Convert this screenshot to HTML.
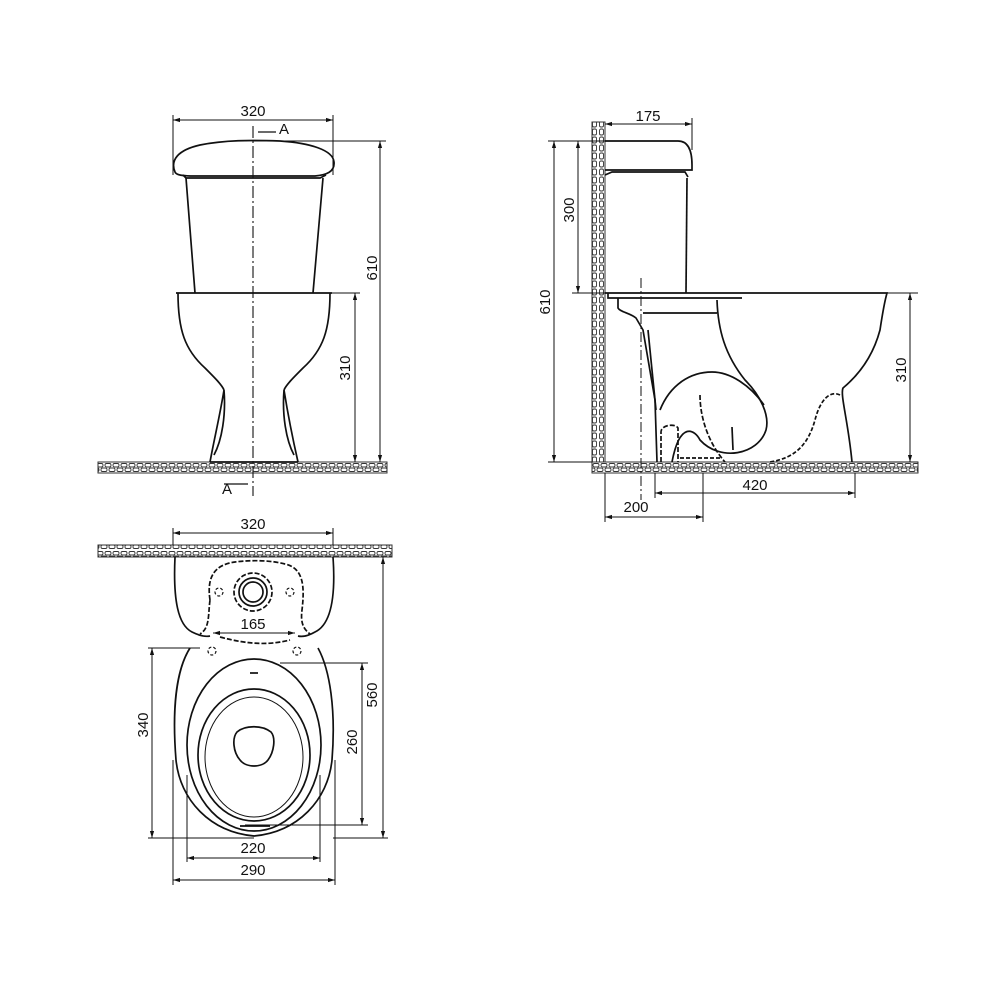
<!DOCTYPE html>
<html><head><meta charset="utf-8"><style>
html,body{margin:0;padding:0;background:#fff;width:990px;height:990px;overflow:hidden}
svg text{font-family:"Liberation Sans",sans-serif;font-size:15px;fill:#111}
</style></head><body>
<svg width="990" height="990" viewBox="0 0 990 990" xmlns="http://www.w3.org/2000/svg">
<defs>
<pattern id="hx" width="8" height="11" patternUnits="userSpaceOnUse">
<rect width="8" height="11" fill="#fff"/>
<rect x="1" y="1.5" width="6" height="3.5" rx="1.5" fill="none" stroke="#333" stroke-width="0.9"/>
<rect x="-3" y="6" width="6" height="3.5" rx="1.5" fill="none" stroke="#333" stroke-width="0.9"/>
<rect x="5" y="6" width="6" height="3.5" rx="1.5" fill="none" stroke="#333" stroke-width="0.9"/>
</pattern>
<pattern id="hy" width="13" height="8" patternUnits="userSpaceOnUse">
<rect width="13" height="8" fill="#fff"/>
<rect x="1.5" y="1" width="4" height="6" rx="1.5" fill="none" stroke="#333" stroke-width="0.9"/>
<rect x="7.5" y="1" width="4" height="6" rx="1.5" fill="none" stroke="#333" stroke-width="0.9"/>
</pattern>
<marker id="ar" viewBox="0 0 10 10" refX="10" refY="5" markerWidth="7" markerHeight="7" orient="auto-start-reverse"><path d="M0,2 L10,5 L0,8z" fill="#111"/></marker>
</defs>
<g fill="none" stroke="#111" stroke-width="1.7">

<!-- ===== FRONT VIEW ===== -->
<rect x="98" y="462" width="289" height="11" fill="url(#hx)" stroke="#333" stroke-width="1"/>
<line x1="253" y1="126" x2="253" y2="496" stroke-dasharray="12,3,2,3" stroke-width="1.1"/>
<line x1="173" y1="115" x2="173" y2="175" stroke-width="1"/>
<line x1="333" y1="115" x2="333" y2="175" stroke-width="1"/>
<line x1="173" y1="120" x2="333" y2="120" stroke-width="1" marker-start="url(#ar)" marker-end="url(#ar)"/>
<line x1="258" y1="132" x2="276" y2="132" stroke-width="1.2"/>
<line x1="224" y1="484" x2="248" y2="484" stroke-width="1.2"/>
<path d="M175,172 C170,160 178,150 200,145 C225,140 250,140 280,141 C310,143 333,150 334,162 C335,172 326,175 315,176 L195,176 C182,176 176,175 175,172 Z"/>
<path d="M183,175 L186,178 L320,178 L326,175"/>
<path d="M186,178 L195,293 M323,178 L313,293"/>
<path d="M176,293 L332,293 M178,293 C178,330 185,350 205,368 C215,378 222,385 224,390 M330,293 C330,330 323,350 303,368 C293,378 286,385 284,390"/>
<path d="M224,390 C220,415 214,440 210,462 M224,390 C226,415 222,440 214,455 M284,390 C288,415 293,440 298,462 M284,390 C282,415 286,440 294,455"/>
<line x1="210" y1="462" x2="298" y2="462"/>
<line x1="253" y1="141" x2="386" y2="141" stroke-width="1"/>
<line x1="332" y1="293" x2="360" y2="293" stroke-width="1"/>
<line x1="380" y1="141" x2="380" y2="462" stroke-width="1" marker-start="url(#ar)" marker-end="url(#ar)"/>
<line x1="355" y1="293" x2="355" y2="462" stroke-width="1" marker-start="url(#ar)" marker-end="url(#ar)"/>

<!-- ===== SIDE VIEW ===== -->
<rect x="592" y="122" width="13" height="340" fill="url(#hy)" stroke="#333" stroke-width="1"/>
<rect x="592" y="462" width="326" height="11" fill="url(#hx)" stroke="#333" stroke-width="1"/>
<line x1="605" y1="124" x2="692" y2="124" stroke-width="1" marker-start="url(#ar)" marker-end="url(#ar)"/>
<line x1="692" y1="118" x2="692" y2="150" stroke-width="1"/>
<path d="M605,141 L678,141 C688,141 692,150 692,165 L692,170 L605,170"/>
<path d="M605,175 L612,172 L685,172 L688,177"/>
<path d="M687,178 L686,293"/>
<line x1="641" y1="278" x2="641" y2="500" stroke-dasharray="10,3,2,3" stroke-width="1"/>
<path d="M605,293 L887,293 C885,300 883,310 880,330 C872,360 855,378 843,388 C840,395 848,420 852,462"/>
<path d="M608,293 L608,298 L742,298"/>
<path d="M618,298 L618,308 C620,312 630,313 636,318 L643,330 L655,400 L657,462"/>
<path d="M643,313 L717,313"/>
<path d="M717,300 C718,330 725,355 745,380 C760,395 770,415 766,430 C758,455 720,462 700,440 C695,430 680,420 672,462"/>
<path d="M660,410 C670,385 690,372 712,372 C730,372 750,385 764,405" />
<path d="M648,330 L656,410"/>
<path d="M840,395 C830,390 820,400 815,420 C808,445 795,458 770,462" stroke-dasharray="4,2"/>
<path d="M700,395 C700,420 710,445 725,462" stroke-dasharray="5,2"/>
<path d="M661,462 L661,432 C661,425 675,423 678,428 L678,462" stroke-dasharray="5,2"/>
<path d="M732,427 L733,450" />
<path d="M680,458 L722,458" stroke-dasharray="4,2"/>
<line x1="548" y1="141" x2="605" y2="141" stroke-width="1"/>
<line x1="548" y1="462" x2="592" y2="462" stroke-width="1"/>
<line x1="572" y1="293" x2="605" y2="293" stroke-width="1"/>
<line x1="554" y1="141" x2="554" y2="462" stroke-width="1" marker-start="url(#ar)" marker-end="url(#ar)"/>
<line x1="578" y1="141" x2="578" y2="293" stroke-width="1" marker-start="url(#ar)" marker-end="url(#ar)"/>
<line x1="887" y1="293" x2="918" y2="293" stroke-width="1"/>
<line x1="852" y1="462" x2="918" y2="462" stroke-width="1"/>
<line x1="910" y1="293" x2="910" y2="462" stroke-width="1" marker-start="url(#ar)" marker-end="url(#ar)"/>
<line x1="605" y1="473" x2="605" y2="522" stroke-width="1"/>
<line x1="655" y1="473" x2="655" y2="498" stroke-width="1"/>
<line x1="703" y1="473" x2="703" y2="522" stroke-width="1"/>
<line x1="855" y1="473" x2="855" y2="498" stroke-width="1"/>
<line x1="655" y1="493" x2="855" y2="493" stroke-width="1" marker-start="url(#ar)" marker-end="url(#ar)"/>
<line x1="605" y1="517" x2="703" y2="517" stroke-width="1" marker-start="url(#ar)" marker-end="url(#ar)"/>

<!-- ===== TOP VIEW ===== -->
<rect x="98" y="545" width="294" height="12" fill="url(#hx)" stroke="#333" stroke-width="1"/>
<line x1="173" y1="528" x2="173" y2="545" stroke-width="1"/>
<line x1="333" y1="528" x2="333" y2="545" stroke-width="1"/>
<line x1="173" y1="533" x2="333" y2="533" stroke-width="1" marker-start="url(#ar)" marker-end="url(#ar)"/>
<path d="M175,557 C173,600 178,625 192,632 C200,636 205,637 210,636 M333,557 C336,600 330,625 315,632 C308,636 302,637 298,636"/>
<path d="M210,600 C207,580 212,565 235,562 C250,560 270,560 285,564 C303,568 305,585 302,610 C300,625 305,630 310,634 M210,600 C208,615 210,628 200,634 M220,637 C250,645 270,645 290,640" stroke-dasharray="5,2"/>
<circle cx="253" cy="592" r="19" stroke-dasharray="5,2"/>
<circle cx="253" cy="592" r="14"/>
<circle cx="253" cy="592" r="10"/>
<circle cx="219" cy="592" r="4" stroke-dasharray="3,2" stroke-width="1.2"/>
<circle cx="290" cy="592" r="4" stroke-dasharray="3,2" stroke-width="1.2"/>
<circle cx="212" cy="651" r="4" stroke-dasharray="3,2" stroke-width="1.2"/>
<circle cx="297" cy="651" r="4" stroke-dasharray="3,2" stroke-width="1.2"/>
<line x1="213" y1="633" x2="295" y2="633" stroke-width="1" marker-start="url(#ar)" marker-end="url(#ar)"/>
<path d="M190,648 C176,670 172,710 176,760 C180,800 210,832 254,836 C298,832 328,800 332,760 C336,710 330,670 318,648"/>
<ellipse cx="254" cy="745" rx="67" ry="86"/>
<ellipse cx="254" cy="755" rx="56" ry="66"/>
<ellipse cx="254" cy="757" rx="49" ry="60" stroke-width="1"/>
<path d="M237,732 C245,725 262,725 271,732 C276,738 274,752 268,760 C262,768 246,768 240,760 C233,752 232,738 237,732 Z"/>
<line x1="250" y1="673" x2="258" y2="673"/>
<line x1="240" y1="826" x2="270" y2="826"/>
<line x1="148" y1="648" x2="200" y2="648" stroke-width="1"/>
<line x1="148" y1="838" x2="254" y2="838" stroke-width="1"/>
<line x1="152" y1="648" x2="152" y2="838" stroke-width="1" marker-start="url(#ar)" marker-end="url(#ar)"/>
<line x1="280" y1="663" x2="368" y2="663" stroke-width="1"/>
<line x1="245" y1="825" x2="368" y2="825" stroke-width="1"/>
<line x1="362" y1="663" x2="362" y2="825" stroke-width="1" marker-start="url(#ar)" marker-end="url(#ar)"/>
<line x1="333" y1="838" x2="388" y2="838" stroke-width="1"/>
<line x1="383" y1="557" x2="383" y2="838" stroke-width="1" marker-start="url(#ar)" marker-end="url(#ar)"/>
<line x1="187" y1="775" x2="187" y2="862" stroke-width="1"/>
<line x1="320" y1="775" x2="320" y2="862" stroke-width="1"/>
<line x1="173" y1="760" x2="173" y2="885" stroke-width="1"/>
<line x1="335" y1="760" x2="335" y2="885" stroke-width="1"/>
<line x1="187" y1="858" x2="320" y2="858" stroke-width="1" marker-start="url(#ar)" marker-end="url(#ar)"/>
<line x1="173" y1="880" x2="335" y2="880" stroke-width="1" marker-start="url(#ar)" marker-end="url(#ar)"/>
</g>

<text x="253" y="116" text-anchor="middle">320</text>
<text x="279" y="134">A</text>
<text x="222" y="494">A</text>
<text transform="translate(377,268) rotate(-90)" text-anchor="middle">610</text>
<text transform="translate(350,368) rotate(-90)" text-anchor="middle">310</text>
<text x="648" y="121" text-anchor="middle">175</text>
<text transform="translate(574,210) rotate(-90)" text-anchor="middle">300</text>
<text transform="translate(550,302) rotate(-90)" text-anchor="middle">610</text>
<text transform="translate(906,370) rotate(-90)" text-anchor="middle">310</text>
<text x="755" y="490" text-anchor="middle">420</text>
<text x="636" y="512" text-anchor="middle">200</text>
<text x="253" y="529" text-anchor="middle">320</text>
<text x="253" y="629" text-anchor="middle">165</text>
<text transform="translate(377,695) rotate(-90)" text-anchor="middle">560</text>
<text transform="translate(148,725) rotate(-90)" text-anchor="middle">340</text>
<text transform="translate(357,742) rotate(-90)" text-anchor="middle">260</text>
<text x="253" y="853" text-anchor="middle">220</text>
<text x="253" y="875" text-anchor="middle">290</text>
</svg>
</body></html>
